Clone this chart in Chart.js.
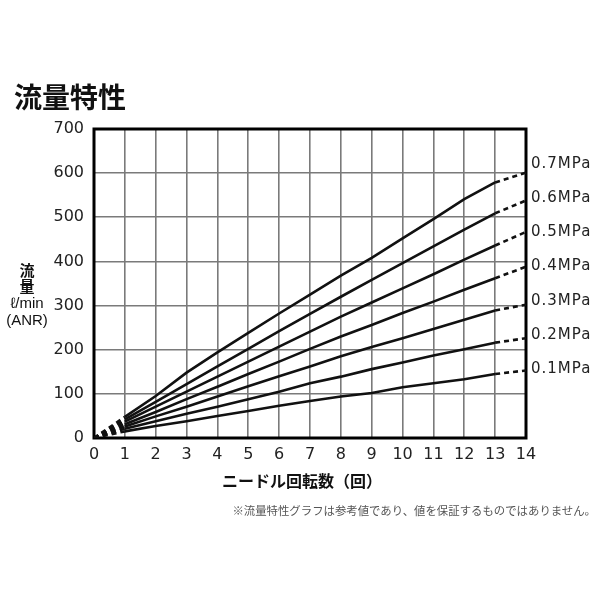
<!DOCTYPE html>
<html>
<head>
<meta charset="utf-8">
<script src="https://cdn.jsdelivr.net/npm/chart.js@4"></script>
<style>
  body { margin: 0; background: #fff; }
  #wrap { position: relative; width: 600px; height: 600px; }
  #wrap canvas { position: absolute; left: 0; top: 0; }
  .txt { position: absolute; font-family: "Noto Sans CJK JP", sans-serif; color: #111; white-space: nowrap; }
  #title { left: 14px; top: 76px; font-size: 28px; font-weight: bold; }
  #ytitle { left: 0; top: 262px; width: 54px; text-align: center; font-size: 15px; line-height: 16px; font-weight: bold; }
  #ytitle .u { font-weight: normal; font-family: "Liberation Sans Narrow", "Liberation Sans", sans-serif; font-size: 15px; }
  #xtitle { left: 222px; top: 468px; font-size: 16px; font-weight: bold; }
  #note { right: 4px; top: 502px; font-size: 11.4px; color: #555; }
</style>
</head>
<body>
<div id="wrap">
  <canvas id="Chart" width="600" height="600"></canvas>
  <div class="txt" id="title">流量特性</div>
  <div class="txt" id="ytitle">流<br>量<br><span class="u">ℓ/min</span><br><span class="u">(ANR)</span></div>
  <div class="txt" id="xtitle">ニードル回転数（回）</div>
  <div class="txt" id="note">※流量特性グラフは参考値であり、値を保証するものではありません。</div>
</div>
<script>
// needle turns 0..14 (0->1 and 13->14 drawn dashed)
const turns = [0, 1, 2, 3, 4, 5, 6, 7, 8, 9, 10, 11, 12, 13, 14];
const pressures = ['0.7MPa', '0.6MPa', '0.5MPa', '0.4MPa', '0.3MPa', '0.2MPa', '0.1MPa'];
const flow07 = [0, 48, 95, 148, 194, 238, 282, 325, 368, 408, 452, 496, 541, 579, 601];
const flow06 = [0, 42, 82, 122, 162, 202, 242, 281, 320, 358, 396, 434, 472, 509, 538];
const flow05 = [0, 37, 71, 105, 139, 173, 207, 241, 275, 307, 339, 371, 404, 436, 467];
const flow04 = [0, 31, 59, 88, 116, 145, 173, 202, 230, 256, 283, 309, 336, 362, 388];
const flow03 = [0, 26, 49, 71, 94, 117, 140, 162, 185, 206, 226, 247, 268, 289, 302];
const flow02 = [0, 21, 38, 55, 71, 88, 105, 124, 139, 156, 171, 187, 201, 216, 226];
const flow01 = [0, 15, 27, 38, 50, 61, 73, 84, 94, 102, 115, 124, 133, 145, 153];
const yTicks = [0, 100, 200, 300, 400, 500, 600, 700];

const series = [flow07, flow06, flow05, flow04, flow03, flow02, flow01];
const last = turns.length - 1;

const datasets = series.map((vals, i) => ({
    label: pressures[i],
    data: vals.map((v, j) => ({ x: turns[j], y: v })),
    borderColor: '#111',
    borderWidth: 2.6,
    pointRadius: 0,
    tension: 0,
    segment: {
        borderDash: c => (c.p0DataIndex === 0 || c.p1DataIndex === last) ? [5, 4] : undefined
    }
}));

// black frame round the plot + pressure labels at the right
const framePlugin = {
    id: 'frame',
    beforeDatasetsDraw(chart) {
        const a = chart.chartArea, ctx = chart.ctx;
        ctx.save();
        ctx.strokeStyle = '#000';
        ctx.lineWidth = 3;
        ctx.strokeRect(a.left, a.top, a.right - a.left, a.bottom - a.top);
        ctx.restore();
    },
    afterDatasetsDraw(chart) {
        const ctx = chart.ctx, ys = chart.scales.y, a = chart.chartArea;
        // labels spread evenly between the top and bottom line ends
        const top = ys.getPixelForValue(series[0][last]) - 9;
        const bot = ys.getPixelForValue(series[series.length - 1][last]) - 1;
        const step = (bot - top) / (series.length - 1);
        ctx.save();
        ctx.font = '15px "DejaVu Sans"';
        ctx.letterSpacing = '1px';
        ctx.fillStyle = '#222';
        ctx.textBaseline = 'middle';
        series.forEach((vals, i) => {
            ctx.fillText(pressures[i], a.right + 5, top + i * step);
        });
        ctx.restore();
    }
};

const ctx = document.getElementById('Chart');
const chart = new Chart(ctx, {
    type: 'line',
    data: { datasets: datasets },
    plugins: [framePlugin],
    options: {
        responsive: false,
        animation: false,
        layout: { padding: { left: 54, right: 74, top: 129, bottom: 132 } },
        plugins: { legend: { display: false }, tooltip: { enabled: false } },
        scales: {
            x: {
                type: 'linear',
                min: 0,
                max: 14,
                afterFit: s => { s.height = 30; },
                ticks: { stepSize: 1, padding: 7, color: '#222', font: { family: 'DejaVu Sans', size: 16 } },
                grid: { color: '#7a7a7a', lineWidth: 1.6, drawTicks: false },
                border: { display: false }
            },
            y: {
                min: 0,
                max: 700,
                afterFit: s => { s.width = 40; },
                afterBuildTicks: s => { s.ticks = yTicks.map(v => ({ value: v })); },
                ticks: { padding: 10, color: '#222', font: { family: 'DejaVu Sans', size: 16 } },
                grid: { color: '#7a7a7a', lineWidth: 1.6, drawTicks: false },
                border: { display: false }
            }
        }
    }
});
</script>
</body>
</html>
